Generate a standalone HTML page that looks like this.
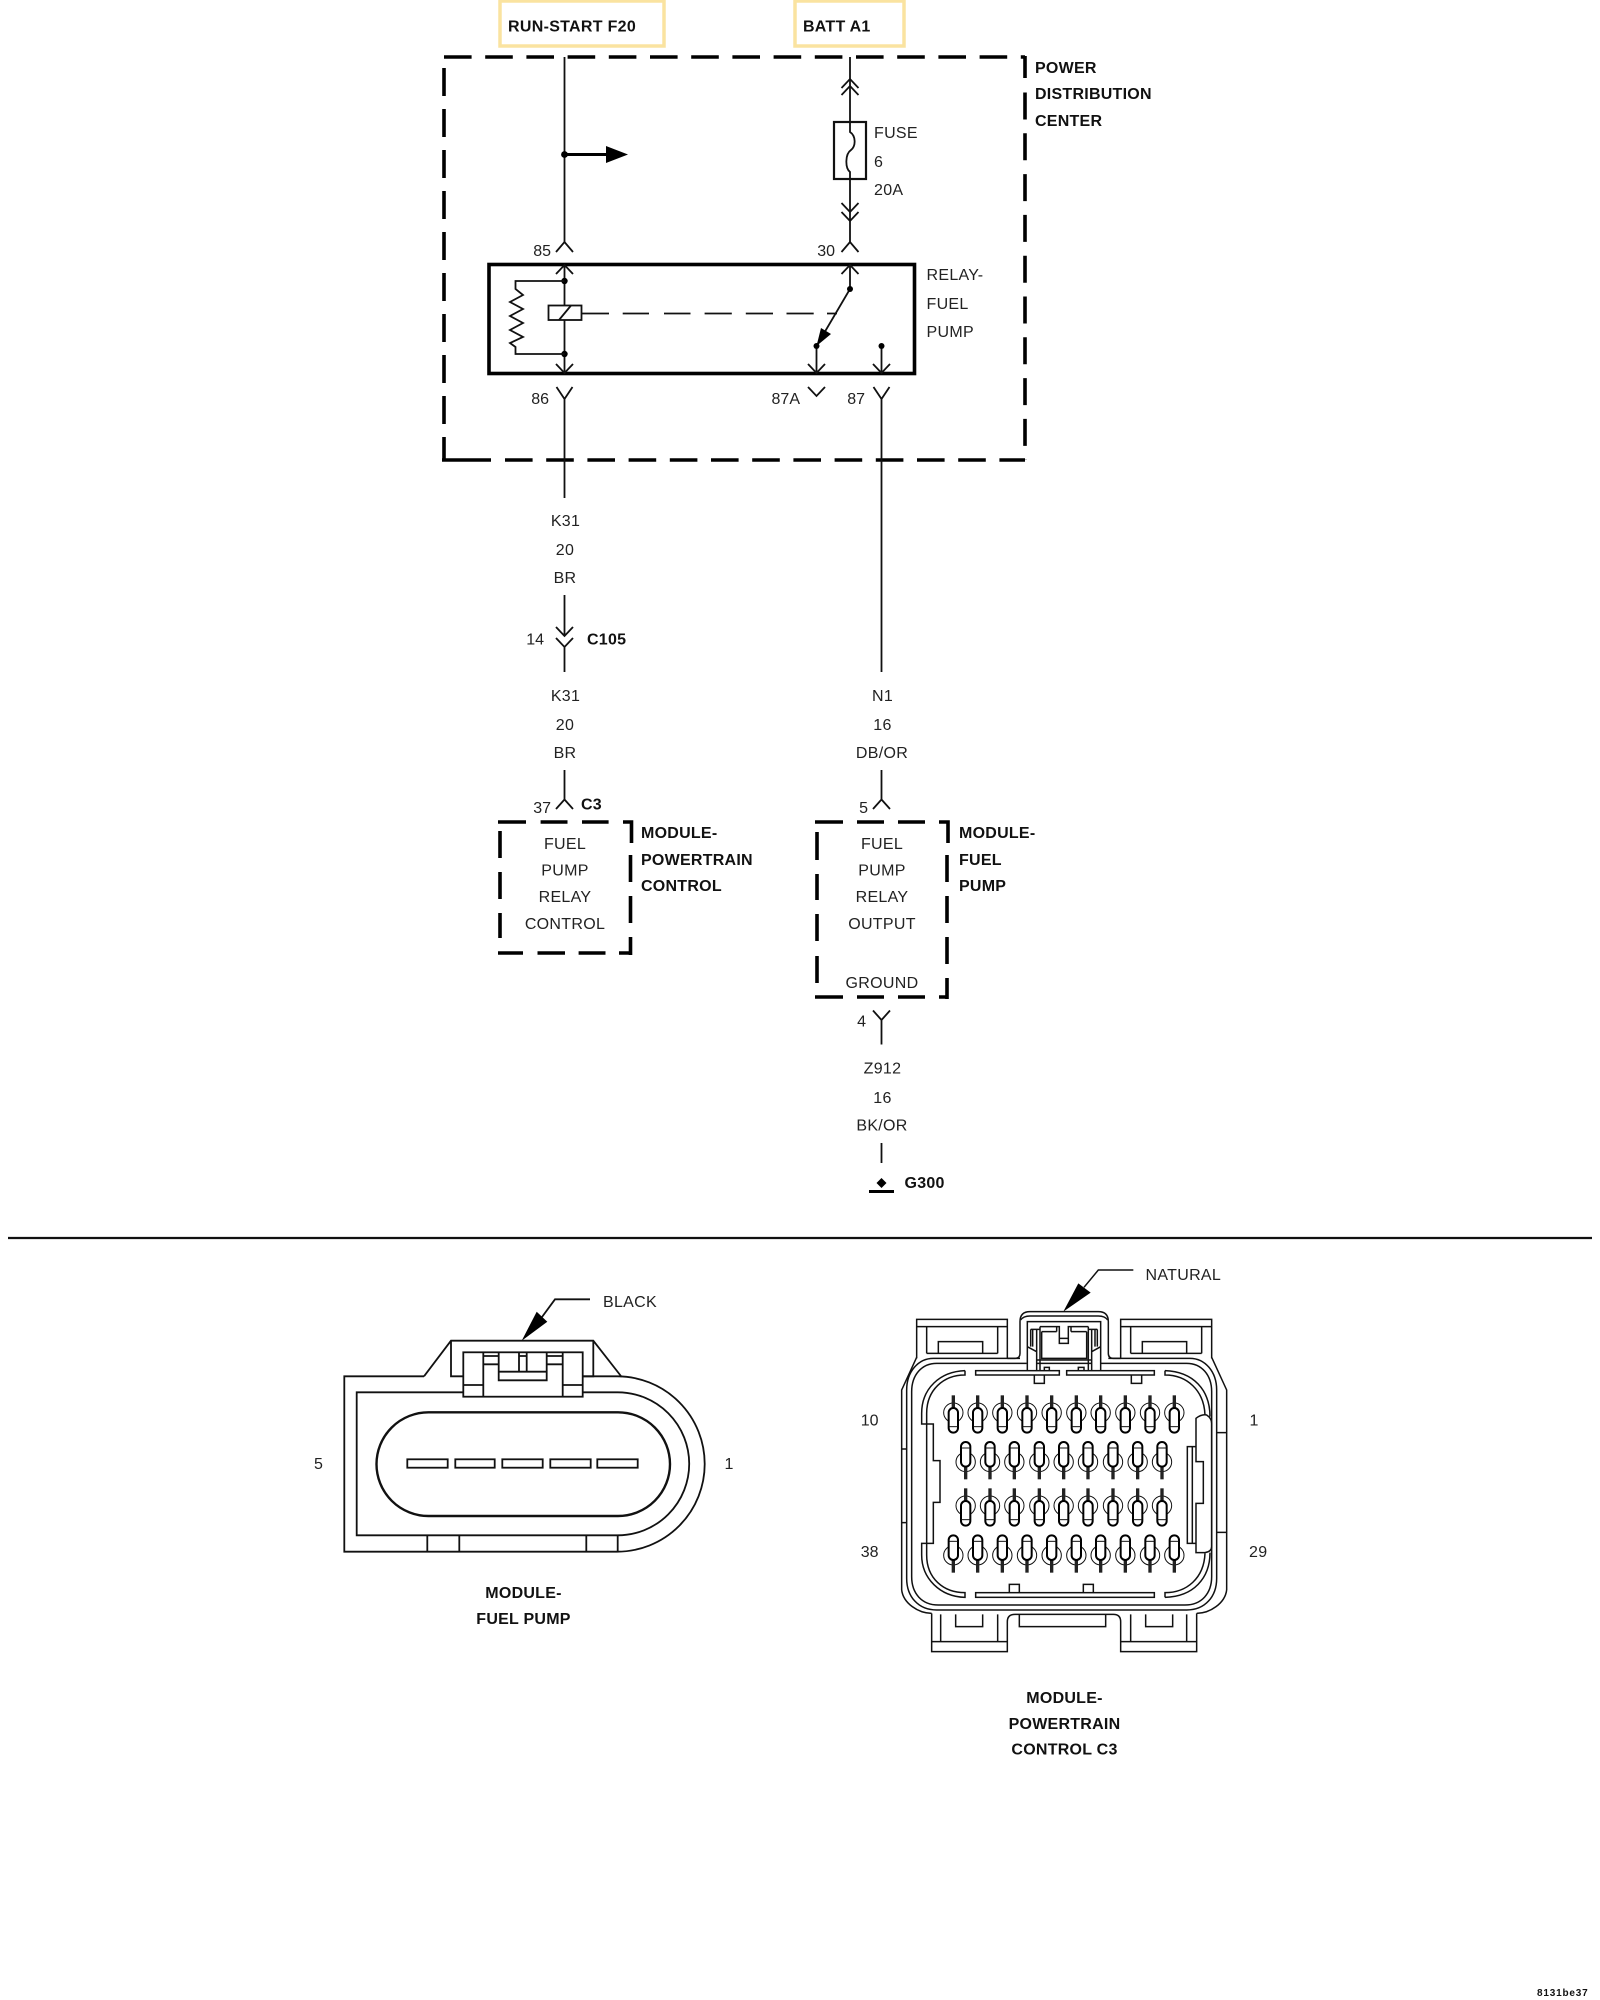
<!DOCTYPE html>
<html><head><meta charset="utf-8"><style>
html,body{margin:0;padding:0;background:#fff}
svg{display:block}
text{font-family:"Liberation Sans",sans-serif;font-size:16px;fill:#222;letter-spacing:.3px}
.b{font-weight:bold;fill:#111;letter-spacing:.25px}
.m{text-anchor:middle}
.e{text-anchor:end;letter-spacing:0}
.w{fill:none;stroke:#111;stroke-width:1.8}
.d{fill:none;stroke:#000;stroke-width:3.6}
.h{fill:none;stroke:#111;stroke-width:4.5}
</style></head><body>
<svg width="1600" height="2000" viewBox="0 0 1600 2000" xmlns="http://www.w3.org/2000/svg">
<rect width="1600" height="2000" fill="#fff"/>
<!-- top boxes -->
<rect x="500" y="1" width="164" height="45" fill="none" stroke="#fae3a0" stroke-width="3.5"/>
<rect x="795" y="1" width="109" height="45" fill="none" stroke="#fae3a0" stroke-width="3.5"/>
<text class="b" x="508" y="31.5" style="letter-spacing:.3px">RUN-START F20</text>
<text class="b" x="803" y="31.5">BATT A1</text>
<!-- PDC dashed -->
<path class="d" d="M444,57H1025" stroke-dasharray="27.6 13.6"/>
<path class="d" d="M1025,56V460" stroke-dasharray="22 14.5 27 13.8 27 13.8 27 13.8 27 13.8 27 13.8 27 13.8 27 13.8 27 13.8 27 13.8"/>
<path class="d" d="M444,68V461" stroke-dasharray="28 13"/>
<path class="d" d="M442,460H491"/>
<path class="d" d="M505,460H1025" stroke-dasharray="27.6 13.6"/>
<text class="b" x="1035" y="73">POWER</text>
<text class="b" x="1035" y="99">DISTRIBUTION</text>
<text class="b" x="1035" y="126">CENTER</text>
<!-- left wire -->
<path class="w" d="M564.5,57V242"/>
<path class="w" d="M556,252L564.5,242L573,252"/>
<circle cx="564.5" cy="154.5" r="3.4" fill="#000"/>
<path d="M564.5,154.5H610" stroke="#000" stroke-width="3" fill="none"/>
<path d="M606,146L628,154.5L606,163Z" fill="#000"/>
<text class="e" x="551" y="256">85</text>
<!-- right wire and fuse -->
<path class="w" d="M850,57V122M850,179V221M850,221V242"/>
<path class="w" d="M841.5,88L850,79L858.5,88M841.5,95L850,86L858.5,95"/>
<rect x="834" y="122" width="32" height="57" fill="none" stroke="#111" stroke-width="2.2"/>
<path class="w" d="M850,122V132C856,136 856,146 851,150C845,154 845,168 850,172V179"/>
<path class="w" d="M841.5,203L850,212L858.5,203M841.5,212L850,221L858.5,212"/>
<path class="w" d="M841.5,252L850,242L858.5,252"/>
<text x="874" y="138">FUSE</text>
<text x="874" y="167">6</text>
<text x="874" y="195">20A</text>
<text class="e" x="835" y="256">30</text>
<!-- relay -->
<rect x="489" y="264.5" width="425.5" height="109" fill="none" stroke="#000" stroke-width="3.6"/>
<text x="926.5" y="280">RELAY-</text>
<text x="926.5" y="309">FUEL</text>
<text x="926.5" y="337">PUMP</text>
<path class="w" d="M564.5,265V373M556,274L564.5,265L573,274M556,364L564.5,373L573,364"/>
<circle cx="564.5" cy="281" r="3.2" fill="#000"/>
<circle cx="564.5" cy="354" r="3.2" fill="#000"/>
<path class="w" d="M564.5,281H515.5V289L523,295L510,302L523,309L510,316L523,323L510,330L523,337L510,343L515.5,347V354H564.5"/>
<rect x="548.5" y="305.5" width="33" height="14.5" fill="#fff" stroke="#111" stroke-width="1.8"/>
<path class="w" d="M559,320L571,305.5"/>
<path class="w" d="M581.5,313.5H609M622.7,313.5H649M664,313.5H690.5M704.6,313.5H731.8M745.8,313.5H773M786.5,313.5H813.7M827,313.5H837"/>
<path class="w" d="M850,265V289L816.5,346V373M841.5,274L850,265L858.5,274M808,364L816.5,373L825,364"/>
<circle cx="850" cy="289" r="3" fill="#000"/>
<circle cx="816.5" cy="346" r="3" fill="#000"/>
<path d="M816.5,346L821,328L831,334Z" fill="#000"/>
<path class="w" d="M881.5,346V373M873,364L881.5,373L890,364"/>
<circle cx="881.5" cy="346" r="3" fill="#000"/>
<!-- below relay -->
<path class="w" d="M556.5,387L564.5,399L572.5,387M564.5,399V498"/>
<path class="w" d="M808,387L816.5,396L825,387"/>
<path class="w" d="M873.5,387L881.5,399L889.5,387M881.5,399V672"/>
<text class="e" x="549" y="404">86</text>
<text class="e" x="800" y="404">87A</text>
<text class="e" x="865" y="404">87</text>
<!-- K31 -->
<text class="m" x="565.5" y="525.8">K31</text>
<text class="m" x="565" y="554.8">20</text>
<text class="m" x="565" y="582.8">BR</text>
<path class="w" d="M564.5,595V636M556,627L564.5,636L573,627M556,638L564.5,647L573,638M564.5,647V672"/>
<text class="e" x="544" y="644.3">14</text>
<text class="b" x="587" y="644.3">C105</text>
<text class="m" x="565.5" y="700.8">K31</text>
<text class="m" x="565" y="730">20</text>
<text class="m" x="565" y="757.8">BR</text>
<path class="w" d="M564.5,770V799.5M556,809L564.5,799.5L573,809"/>
<text class="e" x="551" y="813">37</text>
<text class="b" x="581" y="809.3">C3</text>
<!-- PCM box -->
<path class="d" d="M498,822H526M540.6,822H567.5M582,822H608.6M623,822H631.5V843M630.5,855V882M630.5,896V923M630.5,937V955M631.5,953H619M605.5,953H578.6M565,953H537.5M523,953H498M500,831V858M500,872V899M500,913V938"/>
<text class="m" x="565" y="849">FUEL</text>
<text class="m" x="565" y="875.5">PUMP</text>
<text class="m" x="565" y="902">RELAY</text>
<text class="m" x="565" y="929">CONTROL</text>
<text class="b" x="641" y="838">MODULE-</text>
<text class="b" x="641" y="865">POWERTRAIN</text>
<text class="b" x="641" y="891">CONTROL</text>
<!-- N1 -->
<text class="m" x="882.5" y="700.8">N1</text>
<text class="m" x="882.5" y="730">16</text>
<text class="m" x="882" y="757.8">DB/OR</text>
<path class="w" d="M881.5,770V799.5M873,809L881.5,799.5L890,809"/>
<text class="e" x="868" y="813">5</text>
<!-- FP box -->
<path class="d" d="M815,822H843M857,822H884M898,822H925M939,822H948V843M947,855V882M947,896V923M947,937V964M947,978V999M948,997H939M925,997H898M884,997H857M843,997H815M817,832V860M817,874V900M817,914V941M817,956V983"/>
<text class="m" x="882" y="849">FUEL</text>
<text class="m" x="882" y="875.5">PUMP</text>
<text class="m" x="882" y="902">RELAY</text>
<text class="m" x="882" y="929">OUTPUT</text>
<text class="m" x="882" y="988">GROUND</text>
<text class="b" x="959" y="838">MODULE-</text>
<text class="b" x="959" y="865">FUEL</text>
<text class="b" x="959" y="891">PUMP</text>
<path class="w" d="M873,1010.5L881.5,1020L890,1010.5M881.5,1020V1044.5"/>
<text class="e" x="866" y="1026.5">4</text>
<text class="m" x="882.5" y="1073.5">Z912</text>
<text class="m" x="882.5" y="1103">16</text>
<text class="m" x="882" y="1130.5">BK/OR</text>
<path class="w" d="M881.5,1143V1163"/>
<path d="M881.5,1178L886.5,1183L881.5,1188L876.5,1183Z" fill="#000"/>
<path d="M869,1191.5H894" stroke="#000" stroke-width="3"/>
<text class="b" x="904.5" y="1188">G300</text>
<!-- divider -->
<path d="M8,1238H1592" stroke="#111" stroke-width="2.2"/>

<!-- fuel pump connector -->
<g fill="none" stroke="#111" stroke-width="1.8">
<path d="M424,1376.3H344.3V1551.7H617A87.7,87.7 0 0 0 617,1376.3H582.7"/>
<path d="M463.3,1392.3H356.7V1535.3H617.7A71.5,71.5 0 0 0 617.7,1392.3H582.7"/>
<path d="M424,1376.3L451,1340.7H593.3L621.7,1377M451,1340.7V1376.3H463.3M593.3,1340.7V1376.3H582.7"/>
<rect x="376.5" y="1412.3" width="293.5" height="103.7" rx="52" stroke-width="2.4"/>
<rect x="407.3" y="1459.3" width="40.4" height="8.4"/>
<rect x="455.3" y="1459.3" width="39.4" height="8.4"/>
<rect x="502.3" y="1459.3" width="40.4" height="8.4"/>
<rect x="550.3" y="1459.3" width="40.4" height="8.4"/>
<rect x="597.3" y="1459.3" width="40.4" height="8.4"/>
<rect x="463.3" y="1352.3" width="119.4" height="44.4"/>
<path d="M483.3,1352.3V1396.7M562.7,1352.3V1396.7M463.3,1385H483.3M562.7,1385H582.7M483.3,1356H498.7M483.3,1364.3H498.7M546.7,1356H562.7M546.7,1364.3H562.7M498.7,1352.3V1380.3H546.7V1352.3M498.7,1371.7H546.7M519,1352.3V1371.7M526.7,1352.3V1371.7M519,1356H526.7"/>
<path d="M427.3,1535.3V1551.7M459.3,1535.3V1551.7M586.3,1535.3V1551.7M617.7,1535.3V1551.7"/>
<path d="M590,1299.3H555L542,1317"/>
</g>
<path d="M521.7,1340.7L536.7,1311.7L547.3,1321.7Z" fill="#000"/>
<text x="603" y="1307">BLACK</text>
<text x="314" y="1469">5</text>
<text x="724.5" y="1469">1</text>
<text class="b m" x="523.5" y="1598">MODULE-</text>
<text class="b m" x="523.5" y="1624">FUEL PUMP</text>

<!-- PCM connector -->
<defs>
<g id="p">
<circle cx="0" cy="52" r="29" fill="none" stroke="#111" stroke-width="3"/>
<rect x="-5" y="0" width="10" height="42" fill="#222"/>
<rect x="-14" y="38" width="28" height="74" rx="14" fill="#fff" stroke="#000" stroke-width="6"/>
<path d="M-13,94H13" stroke="#111" stroke-width="3"/>
</g>
</defs>
<g transform="translate(850,1250) scale(.33333)">
<g class="h">
<path d="M200,325V208H472V325M230,310V230H443V310M265,310V275H398V310M200,230H230M443,230H472M230,310H443"/>
<path d="M812,325V208H1085V325M842,310V230H1055V310M877,310V275H1010V310M812,230H842M1055,230H1085M842,310H1055"/>
<path d="M155,1020V420L200,322"/>
<path d="M1130,1020V420L1085,322"/>
<path d="M155,1020C160,1060 205,1090 245,1090M1130,1020C1125,1060 1080,1090 1040,1090"/>
<path d="M155,597H170M155,818H170M1100,548H1130M1100,847H1130"/>
<path d="M472,325H495Q510,325 510,310V215Q510,185 540,185H745Q775,185 775,215V310Q775,325 790,325H812"/>
<path d="M512,210Q520,198 540,198H745Q765,198 773,210"/>
<path d="M510,325H250C205,325 170,365 170,420V985C170,1040 205,1080 260,1080H1010C1065,1080 1100,1040 1100,985V420C1100,365 1065,325 1020,325H775"/>
<path d="M530,340H260C215,340 185,375 185,425V980C185,1030 215,1065 265,1065H1005C1055,1065 1085,1030 1085,980V425C1085,375 1055,340 1010,340H750"/>
<path d="M345,362C270,365 215,415 215,490V522H250V632H270V757H250V880H215V915C215,985 270,1040 345,1042V1028C280,1028 230,985 230,915V880M345,362V375C280,375 230,420 230,490V522M230,522V880"/>
<path d="M945,362C1030,365 1080,420 1080,500M945,362V375C1010,375 1062,420 1065,495M945,1042C1030,1040 1080,985 1080,908M945,1042V1028C1010,1028 1062,985 1065,910"/>
<rect x="377" y="362" width="251" height="13"/>
<rect x="650" y="362" width="263" height="13"/>
<rect x="377" y="1028" width="536" height="14"/>
<path d="M553,375V400H583V375M844,375V400H875V375M478,1028V1003H508V1028M700,1028V1003H730V1028"/>
<path d="M1038,505Q1055,492 1070,495Q1085,505 1085,520V890Q1085,905 1065,908H1038V760H1060V635H1038Z"/>
<path d="M1038,590H1012V880H1038M1027,590V880"/>
<path d="M245,1090V1205H472V1115Q472,1093 495,1093H790Q812,1093 812,1115V1205H1040V1090M245,1175H472M812,1175H1040"/>
<path d="M272,1093V1175M443,1093V1175M317,1093V1130H398V1093M842,1093V1175M1010,1093V1175M887,1093V1130H968V1093M508,1093V1130H767V1093"/>
<path d="M532,362V215H752V362M542,238V290M548,238V290M560,238V362M570,230V362M715,230V362M725,238V362M735,238V290M742,238V290M542,238H570M715,238H742M532,290L560,305M752,290L725,305"/>
<path d="M570,230H628V280H655V230H715M628,265H655M620,230V245M663,230V245M575,245H620M663,245H710M575,245V325H710V245M560,330H725M560,340H725M583,362V352H598V362M685,362V352H702V362"/>
</g>
<use href="#p" x="310" y="436"/><use href="#p" x="383" y="436"/><use href="#p" x="457" y="436"/><use href="#p" x="531" y="436"/><use href="#p" x="605" y="436"/><use href="#p" x="679" y="436"/><use href="#p" x="752" y="436"/><use href="#p" x="826" y="436"/><use href="#p" x="900" y="436"/><use href="#p" x="973" y="436"/>
<use href="#p" x="347" y="715"/><use href="#p" x="420" y="715"/><use href="#p" x="493" y="715"/><use href="#p" x="568" y="715"/><use href="#p" x="641" y="715"/><use href="#p" x="714" y="715"/><use href="#p" x="789" y="715"/><use href="#p" x="863" y="715"/><use href="#p" x="936" y="715"/>
<g transform="translate(0,688) scale(1,-1)">
<use href="#p" x="347"/><use href="#p" x="420"/><use href="#p" x="493"/><use href="#p" x="568"/><use href="#p" x="641"/><use href="#p" x="714"/><use href="#p" x="789"/><use href="#p" x="863"/><use href="#p" x="936"/>
</g>
<g transform="translate(0,968) scale(1,-1)">
<use href="#p" x="310"/><use href="#p" x="383"/><use href="#p" x="457"/><use href="#p" x="531"/><use href="#p" x="605"/><use href="#p" x="679"/><use href="#p" x="752"/><use href="#p" x="826"/><use href="#p" x="900"/><use href="#p" x="973"/>
</g>
<path d="M850,60H745L702,112" class="h" fill="none"/>
<path d="M640,185L685,100L722,128Z" fill="#000"/>
</g>
<text x="1145.5" y="1280">NATURAL</text>
<text class="e" x="878.5" y="1425.5">10</text>
<text x="1249.5" y="1425.5">1</text>
<text class="e" x="878.5" y="1557">38</text>
<text x="1249" y="1557">29</text>
<text class="b m" x="1064.5" y="1703">MODULE-</text>
<text class="b m" x="1064.5" y="1729">POWERTRAIN</text>
<text class="b m" x="1064.5" y="1754.5">CONTROL C3</text>
<text class="b" x="1537" y="1996" style="font-size:10px;letter-spacing:.8px">8131be37</text>
</svg>
</body></html>
